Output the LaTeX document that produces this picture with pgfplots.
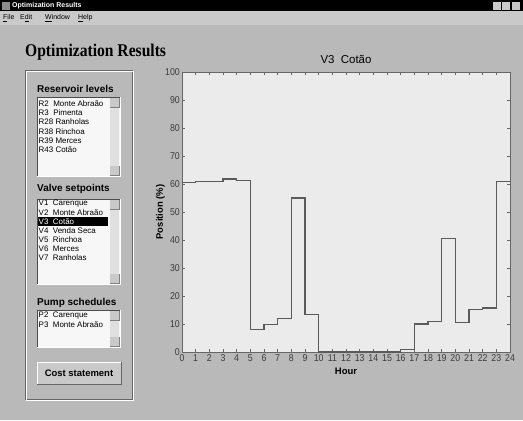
\documentclass[border=0pt]{standalone}
\usepackage{pgfplots}
\pgfplotsset{compat=1.18}
\usepackage{fontspec}
\setmainfont{Liberation Sans}
\newfontfamily\timesf{Liberation Serif}

\definecolor{winbg}{HTML}{B9B9B9}
\definecolor{menubg}{HTML}{C9C9C9}
\definecolor{plotbg}{HTML}{EBEBEB}
\definecolor{frame}{HTML}{666666}
\definecolor{stepc}{HTML}{5A5A5A}
\definecolor{ticktxt}{HTML}{3C3C3C}
\definecolor{listbg}{HTML}{F7F7F7}
\definecolor{scrollbg}{HTML}{E0E0E0}

% V3 Cotao valve position per hour (value held from hour x to x+1)
\pgfplotstableread{
hour pos
0  60.6
1  61.0
2  61.0
3  61.8
4  61.3
5  7.9
6  9.9
7  12.1
8  55.0
9  13.5
10 0
11 0
12 0
13 0
14 0
15 0
16 1.0
17 10.0
18 11.0
19 40.5
20 10.5
21 15.2
22 15.7
23 61.0
24 61.0
}\valvedata

\newcommand{\listbox}[4]{% x1,y1,x2,y2 (screen pixels, y down)
  \fill[listbg] (#1,#2) rectangle (#3,#4);
  \draw[black!70] (#1,#4) -- (#1,#2) -- (#3,#2);
  \draw[white] (#1,#4) -- (#3,#4) -- (#3,#2);
  \fill[scrollbg] (#3-10,#2+1) rectangle (#3-1,#4-1);
  \fill[menubg] (#3-10,#2+1) rectangle (#3-1,#2+10);
  \draw[black!50] (#3-10,#2+10) -- (#3-1,#2+10) -- (#3-1,#2+1);
  \fill[menubg] (#3-10,#4-10) rectangle (#3-1,#4-1);
  \draw[black!50] (#3-10,#4-1) -- (#3-1,#4-1) -- (#3-1,#4-10);
}

\begin{document}
\begin{tikzpicture}[x=1bp,y=1bp]
\fill[winbg] (0,0) rectangle (523,420);

\begin{scope}[yshift=420bp,y=-1bp]
  % window chrome
  \fill[black] (0,0) rectangle (523,11);
  \fill[black!45] (2,2) rectangle (10,10);
  \node[anchor=west,inner sep=0,text=white,font=\bfseries\fontsize{7}{8}\selectfont] at (12,5.7) {Optimization Results};
  \foreach \bx in {493,502,512} {\fill[menubg] (\bx,2) rectangle (\bx+8,10);}
  \fill[menubg] (0,11) rectangle (523,25);
  \foreach \mx/\mt in {3/\underline{F}ile,20/E\underline{d}it,45/\underline{W}indow,78/\underline{H}elp}
    {\node[anchor=west,inner sep=0,font=\fontsize{7}{8}\selectfont] at (\mx,18) {\mt};}

  % page heading
  \node[anchor=base west,inner sep=0,xscale=0.87,font=\timesf\bfseries\fontsize{18}{20}\selectfont] at (25,57) {Optimization Results};

  % left panel
  \draw[black!60] (25,70) rectangle (132,399);
  \draw[white] (26,71) -- (133,71) -- (133,400) -- (26,400) -- cycle;

  \node[anchor=base west,inner sep=0,font=\bfseries\fontsize{10}{12}\selectfont] at (37,93) {Reservoir levels};
  \listbox{37}{97}{120}{176}
  \foreach \i/\t in {0/R2\ \ Monte Abraão,1/R3\ \ Pimenta,2/R28\ Ranholas,3/R38\ Rinchoa,4/R39\ Merces,5/R43\ Cotão}
    {\node[anchor=west,inner sep=0,font=\fontsize{8}{9}\selectfont] at (38.5,103.5+9.3*\i) {\t};}

  \node[anchor=base west,inner sep=0,font=\bfseries\fontsize{10}{12}\selectfont] at (37,192) {Valve setpoints};
  \listbox{37}{199}{120}{284}
  \fill[black] (38,217) rectangle (108,226);
  \foreach \i/\t in {0/V1\ \ Carenque,1/V2\ \ Monte Abraão,3/V4\ \ Venda Seca,4/V5\ \ Rinchoa,5/V6\ \ Merces,6/V7\ \ Ranholas}
    {\node[anchor=west,inner sep=0,font=\fontsize{8}{9}\selectfont] at (38.5,203.5+9.1*\i) {\t};}
  \node[anchor=west,inner sep=0,text=white,font=\fontsize{8}{9}\selectfont] at (38.5,221.7) {V3\ \ Cotão};

  \node[anchor=base west,inner sep=0,font=\bfseries\fontsize{10}{12}\selectfont] at (37,305) {Pump schedules};
  \listbox{37}{310}{120}{347}
  \foreach \i/\t in {0/P2\ \ Carenque,1/P3\ \ Monte Abraão}
    {\node[anchor=west,inner sep=0,font=\fontsize{8}{9}\selectfont] at (38.5,316+9.1*\i) {\t};}

  % button
  \fill[menubg] (37,362) rectangle (121,384);
  \draw[white] (37,384) -- (37,362) -- (121,362);
  \draw[black!60] (37,384) -- (121,384) -- (121,362);
  \node[inner sep=0,font=\bfseries\fontsize{9.5}{11}\selectfont] at (79,373) {Cost statement};
\end{scope}

\begin{axis}[
  at={(182bp,68bp)}, anchor=south west,
  scale only axis, width=328bp, height=280bp,
  xmin=0, xmax=24, ymin=0, ymax=100,
  xtick={0,...,24}, ytick={0,10,...,100},
  tick pos=both, xticklabel pos=left, yticklabel pos=left,
  tick align=inside, major tick length=3bp,
  axis line style={frame, line width=0.8bp},
  tick style={frame, line width=0.6bp},
  axis background/.style={fill=plotbg},
  /pgf/number format/assume math mode=true,
  ticklabel style={font=\fontsize{10}{11}\selectfont, text=ticktxt, xscale=0.88},
  xticklabel style={yshift=1bp},
  yticklabel style={xshift=1bp},
  title={V3\ \ Cotão},
  title style={at={(0.5,1)}, anchor=south, yshift=-1bp, font=\fontsize{11.5}{13}\selectfont},
  xlabel={Hour}, ylabel={Position (\%)},
  xlabel style={font=\bfseries\fontsize{9.5}{11}\selectfont, yshift=0bp},
  ylabel style={font=\bfseries\fontsize{9.5}{11}\selectfont, yshift=-6bp},
]
\addplot[const plot, stepc, line width=1.1bp, mark=none] table[x=hour, y=pos] {\valvedata};
\end{axis}
\end{tikzpicture}
\end{document}
